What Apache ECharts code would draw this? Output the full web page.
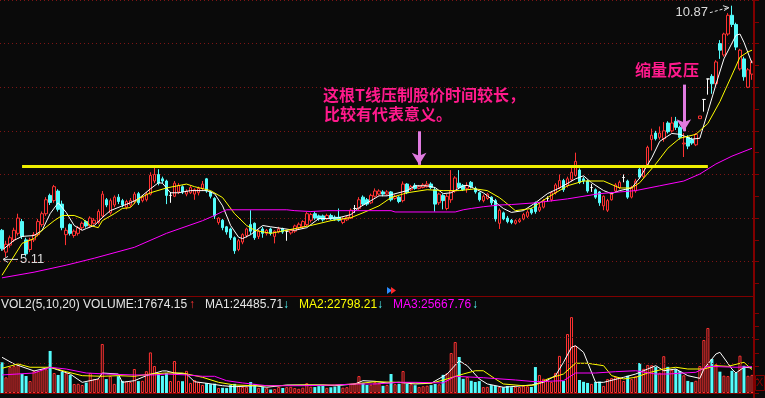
<!DOCTYPE html>
<html>
<head>
<meta charset="utf-8">
<title>K线 VOL</title>
<script src="https://cdn.jsdelivr.net/npm/echarts@6/dist/echarts.min.js"></script>
<style>
  html, body { margin: 0; padding: 0; background: #0a0a0a; }
  #main { width: 765px; height: 398px; }
</style>
</head>
<body>
<div id="main"></div>
<script>
// daily candles: [open, close, low, high]
const candles = [
  [5.72,5.30,5.25,5.75],[5.22,5.40,5.11,5.48],[5.38,5.55,5.32,5.60],[5.50,5.72,5.45,5.78],[5.65,6.00,5.60,6.10],
  [5.92,5.58,5.52,5.98],[5.50,5.18,5.12,5.55],[5.28,5.50,5.22,5.55],[5.50,5.62,5.45,5.68],[5.62,5.92,5.58,5.98],
  [5.85,6.10,5.80,6.15],[6.10,6.42,6.05,6.48],[6.52,6.36,6.30,6.56],[6.40,6.72,6.35,6.76],[6.62,6.20,6.15,6.66],
  [6.32,5.78,5.72,6.40],[5.62,5.72,5.38,5.78],[5.85,5.65,5.60,5.88],[5.60,5.70,5.55,5.74],[5.65,5.78,5.60,5.82],
  [5.78,5.88,5.72,5.92],[5.92,5.82,5.78,5.95],[5.82,6.00,5.78,6.04],[5.88,5.95,5.85,6.00],[5.90,6.15,5.86,6.20],
  [6.05,6.55,6.00,6.62],[6.42,6.30,6.25,6.46],[6.12,6.40,6.08,6.45],[6.30,6.48,6.25,6.52],[6.48,6.38,6.32,6.55],
  [6.40,6.30,6.25,6.44],[6.25,6.38,6.20,6.42],[6.30,6.40,6.25,6.46],[6.38,6.55,6.32,6.60],[6.56,6.35,6.30,6.60],
  [6.40,6.48,6.36,6.52],[6.42,6.55,6.38,6.60],[6.55,6.98,6.52,7.05],[6.85,7.00,6.80,7.18],[7.00,6.80,6.75,7.12],
  [6.90,6.85,6.80,6.95],[6.85,6.52,6.32,6.88],[6.52,6.52,6.35,6.60],[6.50,6.80,6.48,6.85],[6.60,6.75,6.55,6.80],
  [6.72,6.60,6.55,6.75],[6.55,6.62,6.50,6.66],[6.58,6.70,6.55,6.74],[6.55,6.65,6.42,6.68],[6.58,6.68,6.52,6.72],
  [6.68,6.78,6.62,6.85],[6.90,6.62,6.58,6.92],[6.60,6.50,6.45,6.62],[6.45,6.05,5.98,6.48],[5.90,6.00,5.85,6.02],
  [5.95,5.78,5.72,5.98],[5.80,5.68,5.62,5.82],[5.75,5.55,5.50,5.78],[5.55,5.25,5.18,5.58],[5.28,5.48,5.24,5.52],
  [5.45,5.62,5.40,5.65],[5.60,5.75,5.55,5.78],[5.85,5.70,5.62,6.18],[5.88,5.55,5.50,5.90],[5.58,5.70,5.52,5.74],
  [5.75,5.65,5.55,5.80],[5.65,5.72,5.60,5.75],[5.75,5.65,5.60,5.78],[5.58,5.70,5.42,5.72],[5.68,5.75,5.65,5.80],
  [5.76,5.68,5.64,5.78],[5.70,5.70,5.48,5.72],[5.66,5.72,5.62,5.75],[5.70,5.82,5.66,5.85],[5.78,5.86,5.74,5.90],
  [5.80,5.92,5.76,5.95],[5.85,6.10,5.82,6.14],[5.95,6.08,5.90,6.12],[6.10,6.00,5.96,6.15],[6.05,5.98,5.94,6.08],
  [6.05,5.96,5.92,6.08],[5.98,6.06,5.95,6.10],[6.06,5.98,5.95,6.10],[6.02,5.97,5.94,6.06],[6.02,5.95,5.92,6.22],
  [5.90,5.98,5.86,6.02],[5.96,6.02,5.93,6.05],[6.00,6.18,5.98,6.22],[6.22,6.22,6.12,6.30],[6.22,6.42,6.18,6.48],
  [6.48,6.32,6.28,6.52],[6.42,6.32,6.28,6.46],[6.35,6.52,6.32,6.56],[6.50,6.62,6.47,6.68],[6.55,6.62,6.52,6.66],
  [6.60,6.55,6.50,6.64],[6.55,6.60,6.52,6.64],[6.60,6.42,6.38,6.62],[6.45,6.50,6.42,6.54],[6.48,6.38,6.34,6.50],
  [6.40,6.78,6.36,6.84],[6.78,6.58,6.55,6.80],[6.65,6.72,6.62,6.76],[6.75,6.68,6.65,6.80],[6.68,6.72,6.66,6.76],
  [6.70,6.76,6.68,6.80],[6.72,6.78,6.70,6.85],[6.78,6.70,6.66,6.82],[6.65,6.32,6.15,6.70],[6.35,6.55,6.30,6.58],
  [6.52,6.40,6.20,6.55],[6.22,6.50,6.18,6.55],[6.42,6.62,6.35,7.10],[6.62,6.92,6.58,6.96],[6.80,6.70,6.66,7.10],
  [6.75,6.65,6.62,6.78],[6.68,6.75,6.58,6.82],[6.82,6.72,6.68,6.85],[6.68,6.60,6.56,6.72],[6.58,6.42,6.38,6.60],
  [6.40,6.50,6.36,6.54],[6.45,6.55,6.42,6.58],[6.48,6.35,6.30,6.50],[6.40,5.98,5.92,6.44],[5.88,6.18,5.75,6.22],
  [6.12,5.98,5.95,6.15],[6.00,5.92,5.88,6.05],[5.95,5.90,5.86,5.98],[5.88,5.94,5.85,5.97],[5.92,5.96,5.89,6.00],
  [5.98,6.08,5.95,6.12],[6.04,6.14,6.00,6.18],[6.20,6.12,6.08,6.24],[6.35,6.15,6.10,6.38],[6.18,6.25,6.14,6.35],
  [6.25,6.40,6.22,6.44],[6.45,6.45,6.38,6.50],[6.42,6.58,6.38,6.62],[6.58,6.76,6.54,6.80],[6.70,6.86,6.66,7.00],
  [6.86,6.65,6.60,6.90],[6.75,6.90,6.70,6.95],[6.88,7.05,6.84,7.20],[6.98,7.30,6.95,7.50],[7.10,6.82,6.78,7.14],
  [6.90,6.85,6.78,6.95],[6.85,6.62,6.58,6.88],[6.70,6.70,6.60,6.78],[6.65,6.48,6.44,6.68],[6.60,6.35,6.28,6.62],
  [6.28,6.50,6.18,6.52],[6.18,6.40,6.14,6.44],[6.42,6.55,6.40,6.60],[6.62,6.76,6.58,6.80],[6.70,6.82,6.66,6.86],
  [6.93,6.93,6.82,7.00],[6.85,6.48,6.44,6.88],[6.48,6.70,6.45,6.74],[6.62,6.85,6.58,6.90],[7.12,6.94,6.90,7.15],
  [6.95,7.18,6.92,7.22],[7.18,7.62,7.15,7.66],[7.80,7.90,7.55,8.05],[7.95,7.82,7.78,8.00],[7.85,7.95,7.80,8.10],
  [7.82,8.00,7.75,8.20],[8.18,7.98,7.94,8.22],[8.00,8.18,7.96,8.32],[8.22,8.08,8.02,8.32],[8.08,7.85,7.80,8.12],
  [7.70,7.72,7.40,7.95],[7.85,7.65,7.58,7.90],[7.80,7.72,7.68,7.85],[7.68,7.92,7.65,7.95],[8.28,8.34,8.28,8.34],
  [8.72,8.72,8.44,8.72],[9.19,9.19,8.83,9.19],[9.25,9.08,8.85,9.30],[9.08,9.58,9.04,9.62],[10.00,9.85,9.65,10.08],
  [9.74,10.22,9.70,10.25],[10.22,10.65,10.18,10.70],[10.65,10.44,10.38,10.87],[10.44,9.92,9.85,10.48],[9.42,9.85,9.38,9.88],
  [9.65,9.24,9.15,9.70],[9.00,9.40,8.98,9.44],[9.30,9.58,9.17,9.62]
];

// daily volume
const volumes = [
  29900,15300,25400,26300,27300,18500,16600,11700,21500,21400,
  23400,23200,41000,19500,17600,20500,19300,17500,8800,9000,
  7800,10200,19600,13700,13500,47800,13600,16500,8900,16400,
  11800,11500,10700,23400,11600,11900,21300,39600,26300,18600,
  16700,19400,11700,31200,11800,11500,21600,9800,12600,10800,
  7900,9700,8600,9100,4900,5100,4800,7700,8900,6800,
  5900,6100,10700,8700,5000,5800,4700,3400,3900,5900,
  4900,5700,6000,4800,4100,5200,9600,6100,5800,6700,
  6900,5000,5600,6200,7000,5200,5700,8800,9700,16500,
  9900,7800,8100,10600,9500,7000,7900,18500,8600,9000,
  21400,8900,8600,7600,5900,6600,7100,7700,8800,8500,
  17700,19400,39000,49700,35100,13800,15600,11900,10700,11600,
  5800,6000,7700,7000,5900,5600,6800,5700,6100,5800,
  7000,6600,5900,25300,17600,13900,12800,10800,19600,36200,
  11700,57500,74000,45800,12700,10900,9800,8900,10700,11100,
  6900,13600,14500,15700,14800,11700,16800,13500,16400,29200,
  23600,27400,27100,25300,19800,35900,25500,22600,23200,21400,
  17300,11800,10600,11900,26300,51700,63400,33200,28100,20800,
  16900,16500,21700,19600,36400,26500,16800,17674.15
];

// price moving averages, read as [day index, price]
const priceMaWhite = [
  [0,5.26],[3,5.49],[5,5.58],[8,5.60],[10,5.72],[12,6.10],[14,6.35],[16,6.13],[18,5.83],[20,5.72],
  [21,5.76],[23,5.83],[25,6.01],[27,6.17],[30,6.28],[32,6.35],[34,6.44],[37,6.67],[39,6.81],[40,6.80],
  [42,6.58],[44,6.58],[47,6.63],[51,6.63],[53,6.56],[55,6.28],[57,5.83],[59,5.56],[60,5.53],[62,5.62],
  [65,5.83],[67,5.80],[70,5.76],[73,5.72],[76,5.78],[79,5.99],[81,5.99],[84,6.01],[87,6.08],[89,6.24],
  [92,6.40],[94,6.51],[96,6.51],[101,6.63],[103,6.74],[106,6.74],[108,6.70],[110,6.56],[112,6.58],[115,6.74],
  [116,6.75],[118,6.67],[120,6.58],[122,6.44],[125,6.22],[127,6.13],[130,6.17],[133,6.35],[136,6.56],[139,6.69],
  [143,6.90],[145,6.97],[147,6.81],[150,6.63],[152,6.56],[154,6.63],[157,6.69],[159,6.92],[162,7.38],[164,7.76],
  [167,7.94],[169,7.92],[172,7.81],[174,7.83],[176,8.44],[178,9.06],[180,9.65],[183,10.19],[184,10.22],[185,10.03],
  [187,9.55]
];
const priceMaYellow = [
  [0,4.69],[5,5.42],[8,5.53],[10,5.72],[13,5.94],[15,6.06],[18,6.06],[20,5.99],[22,5.83],[24,5.78],
  [25,5.94],[28,6.10],[30,6.22],[32,6.24],[34,6.44],[37,6.58],[41,6.69],[46,6.78],[48,6.72],[52,6.63],
  [55,6.47],[58,6.10],[61,5.83],[63,5.72],[67,5.65],[72,5.74],[77,5.83],[82,5.94],[87,6.01],[90,6.12],
  [94,6.28],[97,6.47],[101,6.58],[106,6.65],[110,6.63],[114,6.63],[118,6.67],[121,6.63],[124,6.47],[125,6.40],
  [128,6.17],[132,6.22],[136,6.47],[141,6.74],[145,6.85],[150,6.85],[154,6.69],[157,6.69],[159,6.81],[163,7.24],
  [166,7.60],[169,7.83],[173,7.92],[176,8.17],[179,8.67],[182,9.28],[184,9.69],[186,9.81],[187,9.85]
];
const priceMaMagenta = [
  [0,4.63],[8,4.76],[16,4.92],[23,5.08],[33,5.33],[41,5.65],[50,5.94],[53,6.06],[55,6.15],[56,6.19],
  [71,6.19],[73,6.17],[77,6.15],[81,6.17],[97,6.17],[98,6.14],[113,6.14],[115,6.19],[117,6.22],[120,6.26],
  [124,6.30],[127,6.31],[133,6.35],[141,6.44],[149,6.56],[158,6.63],[164,6.74],[170,6.85],[174,7.01],[178,7.24],
  [182,7.42],[187,7.60]
];

// volume moving averages, read as [day index, volume]
const volMa1 = [
  [0,34800],[3,28300],[8,21500],[12,25100],[17,18500],[20,10400],[24,13700],[25,19500],[29,18500],[30,10400],
  [33,12000],[36,16900],[40,21500],[41,21500],[43,19500],[46,18500],[48,11000],[51,9500],[55,7100],[58,6100],
  [63,7100],[66,5600],[71,7800],[76,7800],[80,7800],[83,7100],[88,8800],[90,12000],[93,11400],[96,9800],
  [99,10400],[103,8800],[107,9500],[111,18500],[114,31500],[116,26600],[119,13700],[121,8800],[125,5600],[128,6500],
  [132,7800],[135,10400],[138,16900],[140,29900],[142,44600],[143,46100],[145,39700],[148,10400],[150,10400],[155,15300],
  [158,18500],[161,23400],[163,26600],[165,21700],[168,23400],[171,16900],[174,14300],[175,23400],[178,38000],[179,39700],
  [182,23400],[183,19500],[185,25100],[187,24485.71]
];
const volMa2 = [
  [0,24100],[4,28300],[7,25100],[12,25100],[16,20800],[20,16900],[25,16300],[29,16900],[33,16300],[37,18500],
  [41,19500],[45,19500],[50,15300],[54,10400],[58,7800],[63,7100],[68,7100],[75,7800],[83,7800],[88,8800],
  [93,11000],[99,10400],[103,9800],[107,9500],[111,13700],[115,18500],[118,21700],[120,21700],[123,13700],[125,8800],
  [130,7100],[133,7800],[136,13700],[140,18500],[143,29000],[146,29000],[150,26600],[152,16900],[155,13700],[158,15300],
  [161,19500],[165,23400],[168,25100],[171,23400],[175,23400],[178,26600],[181,26000],[185,29900],[187,22798.21]
];
const volMa3 = [
  [0,17600],[8,19500],[12,25100],[16,23400],[21,19500],[26,18500],[33,17600],[38,17600],[41,18500],[46,17600],
  [50,16300],[53,16300],[56,12000],[60,9800],[66,7100],[75,7100],[83,7800],[88,8800],[93,8800],[99,10400],
  [103,10400],[110,9800],[113,16300],[120,14900],[128,12700],[133,11000],[140,12000],[143,19500],[148,19500],[153,20800],
  [158,21700],[163,18500],[166,18500],[173,20200],[176,26000],[183,25100],[187,25667.76]
];

// annotations
const resistance = { from: 5, to: 176, price: 7.18 };
const callouts = [
  { idx: 104, from: 7.99, to: 7.22 },
  { idx: 170, from: 9.06, to: 7.99 }
];
const notes = [
  { text: '这根T线压制股价时间较长，', x: 323, y: 95 },
  { text: '比较有代表意义。', x: 324, y: 114 },
  { text: '缩量反压', x: 635, y: 70 }
];
const volGridLevels = [29000, 54300];

const RED = '#ff3232';
const CYAN = '#54fcfc';
const BG = '#0a0a0a';
const GRIDLINE = '#7d1515';
const FRAME = '#800000';
const NOTE = '#ff1a8c';
const ARROW = '#e07be0';

const N = candles.length;
const days = candles.map((_, i) => String(i + 1));
const chart = echarts.init(document.getElementById('main'));

const volBars = volumes.map((v, i) => {
  const up = candles[i][1] >= candles[i][0];
  return {
    value: v,
    itemStyle: up ? { color: BG, borderColor: RED, borderWidth: 1 } : { color: CYAN }
  };
});

function maLine(data, color, xi, yi, width) {
  return {
    type: 'line', data: data, xAxisIndex: xi, yAxisIndex: yi,
    symbol: 'none', silent: true,
    lineStyle: { color: color, width: width || 1 }, z: 3
  };
}

const option = {
  backgroundColor: BG,
  animation: false,
  grid: [
    { left: 0, width: 754, top: -2.5, height: 286 },
    { left: 0, width: 754, top: 313, height: 80 }
  ],
  xAxis: [
    { type: 'category', data: days, gridIndex: 0, show: false },
    { type: 'category', data: days, gridIndex: 1, show: false }
  ],
  yAxis: [
    {
      gridIndex: 0, position: 'right', min: 4.5, max: 11, interval: 0.5,
      axisLine: { show: true, lineStyle: { color: FRAME, width: 2 } },
      axisTick: { show: true, length: 5, lineStyle: { color: FRAME } },
      axisLabel: { show: false },
      splitLine: { show: true, lineStyle: { color: ['transparent', GRIDLINE], type: [1, 3] } }
    },
    {
      gridIndex: 1, position: 'right', min: 0, max: 78000, interval: 13000,
      axisLine: { show: true, lineStyle: { color: FRAME, width: 2 } },
      axisTick: { show: true, length: 5, lineStyle: { color: FRAME } },
      axisLabel: { show: false },
      splitLine: { show: false }
    }
  ],
  series: [
    {
      type: 'candlestick', data: candles, xAxisIndex: 0, yAxisIndex: 0,
      barWidth: 3,
      itemStyle: {
        color: BG, color0: CYAN, borderColor: RED, borderColor0: CYAN,
        borderColorDoji: '#ffffff', borderWidth: 1
      },
      markLine: {
        silent: true, symbol: ['none', 'arrow'], symbolSize: [11, 12],
        label: { show: false },
        lineStyle: { color: ARROW, width: 3, type: 'solid' },
        data: callouts.map(c => [
          { coord: [c.idx, c.from] },
          { coord: [c.idx, c.to] }
        ])
      },
      z: 2
    },
    maLine(priceMaWhite, '#ffffff', 0, 0),
    maLine(priceMaYellow, '#ffff00', 0, 0),
    maLine(priceMaMagenta, '#ff00ff', 0, 0),
    maLine([[resistance.from, resistance.price], [resistance.to, resistance.price]], '#f0f000', 0, 0, 3),
    {
      type: 'bar', data: volBars, xAxisIndex: 1, yAxisIndex: 1, barWidth: 3,
      markLine: {
        silent: true, symbol: 'none', label: { show: false },
        lineStyle: { color: GRIDLINE, width: 1, type: [1, 3] },
        data: volGridLevels.map(v => ({ yAxis: v }))
      }
    },
    maLine(volMa1, '#ffffff', 1, 1),
    maLine(volMa2, '#ffff00', 1, 1),
    maLine(volMa3, '#ff00ff', 1, 1)
  ]
};

chart.setOption(option);

// extreme price labels placed from data
const highs = candles.map(c => c[3]);
const lows = candles.map(c => c[2]);
const hiIdx = highs.indexOf(Math.max(...highs));
const loIdx = lows.indexOf(Math.min(...lows));
const hiPt = chart.convertToPixel({ gridIndex: 0 }, [hiIdx, highs[hiIdx]]);
const loPt = chart.convertToPixel({ gridIndex: 0 }, [loIdx, lows[loIdx]]);
const LABEL = '#dcdcdc';

const last = a => a[a.length - 1][1].toFixed(2);
const legend = [
  { text: 'VOL2(5,10,20) VOLUME:' + volumes[N - 1].toFixed(2), x: 1, color: '#e6e6e6' },
  { text: '↑', x: 189, color: RED },
  { text: 'MA1:' + last(volMa1), x: 205, color: '#e6e6e6' },
  { text: '↓', x: 283, color: CYAN },
  { text: 'MA2:' + last(volMa2), x: 299, color: '#ffff00' },
  { text: '↓', x: 377, color: CYAN },
  { text: 'MA3:' + last(volMa3), x: 393, color: '#ff00ff' },
  { text: '↓', x: 472, color: CYAN }
];

const graphics = [
  { type: 'line', shape: { x1: 754, y1: 0, x2: 754, y2: 398 }, style: { stroke: FRAME, lineWidth: 2 }, z: 50 },
  { type: 'line', shape: { x1: 0, y1: 296.5, x2: 754, y2: 296.5 }, style: { stroke: FRAME, lineWidth: 1 }, z: 50 },
  { type: 'line', shape: { x1: 0, y1: 393.5, x2: 754, y2: 393.5 }, style: { stroke: FRAME, lineWidth: 1 }, z: 50 },
  { type: 'polygon', shape: { points: [[387, 287], [392, 290.5], [387, 294]] }, style: { fill: '#2a8cff' }, z: 50 },
  { type: 'polygon', shape: { points: [[391, 287], [396, 290.5], [391, 294]] }, style: { fill: '#ff2a2a' }, z: 50 },
  { type: 'rect', shape: { x: 755.5, y: 375.5, width: 9, height: 15 }, style: { fill: 'none', stroke: FRAME }, z: 50 },
  { type: 'text', x: 756, y: 383, style: { text: 'X', fill: FRAME, font: '11px "Liberation Sans"', verticalAlign: 'middle' }, z: 50 },
  // 10.87 label with dashed pointer
  { type: 'text', x: hiPt[0] - 24, y: hiPt[1] + 7,
    style: { text: highs[hiIdx].toFixed(2), fill: LABEL, font: '13px "Liberation Sans"', align: 'right', verticalAlign: 'middle' }, z: 60 },
  { type: 'line', shape: { x1: hiPt[0] - 22, y1: hiPt[1] + 7, x2: hiPt[0] - 4, y2: hiPt[1] + 2 },
    style: { stroke: LABEL, lineWidth: 1, lineDash: [3, 2] }, z: 60 },
  { type: 'polyline', shape: { points: [[hiPt[0] - 9, hiPt[1]], [hiPt[0] - 3, hiPt[1] + 2], [hiPt[0] - 8, hiPt[1] + 5]] },
    style: { stroke: LABEL, lineWidth: 1, fill: 'none' }, z: 60 },
  // 5.11 label with pointer
  { type: 'line', shape: { x1: loPt[0] + 12, y1: loPt[1] + 2.5, x2: loPt[0] - 3, y2: loPt[1] + 2.5 },
    style: { stroke: LABEL, lineWidth: 1 }, z: 60 },
  { type: 'polyline', shape: { points: [[loPt[0] + 2, loPt[1] - 0.5], [loPt[0] - 3, loPt[1] + 2.5], [loPt[0] + 2, loPt[1] + 5.5]] },
    style: { stroke: LABEL, lineWidth: 1, fill: 'none' }, z: 60 },
  { type: 'text', x: loPt[0] + 14, y: loPt[1] + 2.5,
    style: { text: lows[loIdx].toFixed(2), fill: LABEL, font: '13px "Liberation Sans"', verticalAlign: 'middle' }, z: 60 }
];

notes.forEach(n => graphics.push({
  type: 'text', x: n.x, y: n.y,
  style: { text: n.text, fill: NOTE, font: 'bold 16px "Noto Sans CJK SC"', verticalAlign: 'middle' }, z: 60
}));
legend.forEach(l => graphics.push({
  type: 'text', x: l.x, y: 305,
  style: { text: l.text, fill: l.color, font: '12px "Liberation Sans"', verticalAlign: 'middle' }, z: 60
}));

chart.setOption({ graphic: graphics });

window.addEventListener('resize', function () {
  chart.resize();
});
</script>
</body>
</html>
